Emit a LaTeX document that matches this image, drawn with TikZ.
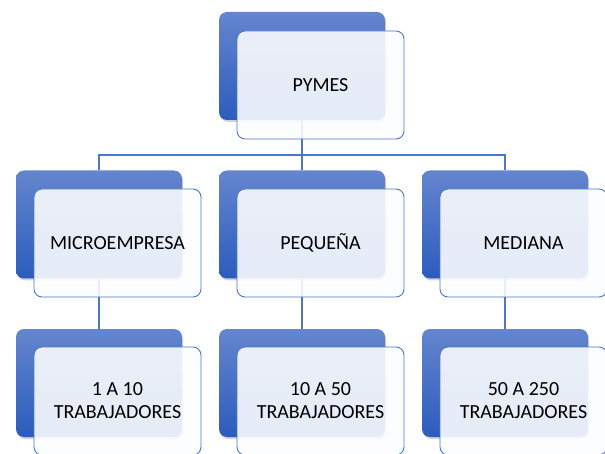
\documentclass[tikz,border=0pt]{standalone}
\usepackage{fontspec}
\setmainfont{Carlito}
\usetikzlibrary{shadows}
\definecolor{boxtop}{HTML}{6585CE}
\definecolor{boxbot}{HTML}{2B5CBD}
\definecolor{boxline}{HTML}{4A78C8}
\definecolor{boxfill}{HTML}{FCFDFF}
\begin{document}
\begin{tikzpicture}[x=1pt,y=-1pt]

\tikzset{backbox/.style = {rectangle, rounded corners=8pt, minimum width=166pt, minimum height=108pt, top color=boxtop, bottom color=boxbot, drop shadow={opacity=0.35, shadow xshift=1pt, shadow yshift=-2pt}}}
\tikzset{frontbox/.style = {rectangle, rounded corners=8pt, minimum width=167pt, minimum height=108pt, draw=boxline, line width=0.9pt, fill=boxfill, fill opacity=0.89, draw opacity=1, text opacity=1, align=center, font=\fontsize{20}{23}\selectfont}}
\tikzset{link/.style = {draw=boxline, line width=1.6pt}}
\useasboundingbox (0,0) rectangle (605,454);
%back boxes
\node[backbox] (pymesb) at (302,66) {};
\node[backbox] (microb) at (99,224.5) {};
\node[backbox] (pequeb) at (302,224.5) {};
\node[backbox] (medianb) at (505,224.5) {};
\node[backbox] (microtb) at (99,383) {};
\node[backbox] (pequetb) at (302,383) {};
\node[backbox] (mediantb) at (505,383) {};
%links
\coordinate (bus) at (302,155);
\draw[link] (pymesb.south) -- (bus);
\draw[link] (microb.north) |- (bus) -| (medianb.north);
\draw[link] (pequeb.north) -- (bus);
\draw[link] (microb.south) -- (microtb.north);
\draw[link] (pequeb.south) -- (pequetb.north);
\draw[link] (medianb.south) -- (mediantb.north);
%front boxes
\node[frontbox] (pymes) at (320.5,85) {PYMES};
\node[frontbox] (micro) at (117.5,243) {MICROEMPRESA};
\node[frontbox] (peque) at (320.5,243) {PEQUEÑA};
\node[frontbox] (median) at (523.5,243) {MEDIANA};
\node[frontbox] (microt) at (117.5,401) {1 A 10\\TRABAJADORES};
\node[frontbox] (pequet) at (320.5,401) {10 A 50\\TRABAJADORES};
\node[frontbox] (mediant) at (523.5,401) {50 A 250\\TRABAJADORES};

\end{tikzpicture}
\end{document}
